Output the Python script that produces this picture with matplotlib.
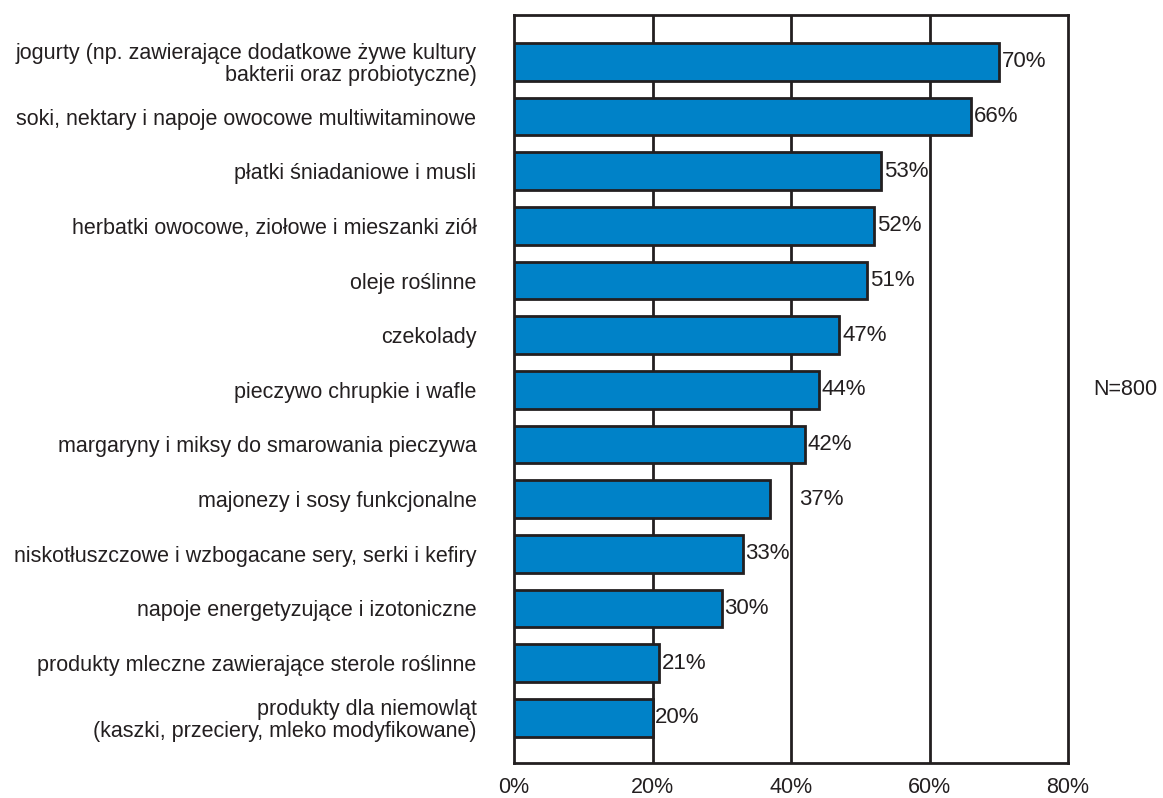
import matplotlib.pyplot as plt

plt.rcParams['font.family'] = ['Liberation Sans', 'DejaVu Sans']

categories = [
    'jogurty (np. zawierające dodatkowe żywe kultury\nbakterii oraz probiotyczne)',
    'soki, nektary i napoje owocowe multiwitaminowe',
    'płatki śniadaniowe i musli',
    'herbatki owocowe, ziołowe i mieszanki ziół',
    'oleje roślinne',
    'czekolady',
    'pieczywo chrupkie i wafle',
    'margaryny i miksy do smarowania pieczywa',
    'majonezy i sosy funkcjonalne',
    'niskotłuszczowe i wzbogacane sery, serki i kefiry',
    'napoje energetyzujące i izotoniczne',
    'produkty mleczne zawierające sterole roślinne',
    'produkty dla niemowląt\n(kaszki, przeciery, mleko modyfikowane)',
]
values = [70, 66, 53, 52, 51, 47, 44, 42, 37, 33, 30, 21, 20]
xticks = [0, 20, 40, 60, 80]
note = 'N=800'

bar_color = '#0082C8'
dark = '#231F20'

fig = plt.figure(figsize=(11.63, 7.98), dpi=100)
ax = fig.add_axes([514 / 1163, 1 - 763 / 798, 554 / 1163, 748 / 798])

pos = list(range(len(categories)))
ax.barh(pos, values, height=0.69, color=bar_color, edgecolor=dark,
        linewidth=2, zorder=3)

for x in xticks[1:-1]:
    ax.axvline(x, color=dark, linewidth=2, zorder=1)

# most labels sit right at the bar end, one is pushed further out
extra = {37: 3.8}
for i, v in enumerate(values):
    ax.text(v + 0.4 + extra.get(v, 0), i, f'{v}%', va='center', ha='left',
            fontsize=16, color=dark, zorder=4)

ax.set_xlim(0, 80)
ax.set_ylim(12.83, -0.86)
ax.set_xticks(xticks)
ax.set_xticklabels([f'{t}%' for t in xticks], fontsize=15.5, color=dark)
ax.set_yticks(pos)
ax.set_yticklabels(categories, fontsize=15.5, color=dark, ha='right',
                   multialignment='right', linespacing=1.05)
ax.tick_params(axis='both', length=0)
ax.tick_params(axis='y', pad=27)
ax.tick_params(axis='x', pad=10)

for s in ax.spines.values():
    s.set_color(dark)
    s.set_linewidth(2)

fig.text(1093 / 1163, 1 - 389 / 798, note, fontsize=15.5, color=dark,
         va='center', ha='left')

fig.savefig('out.png', dpi=100)
